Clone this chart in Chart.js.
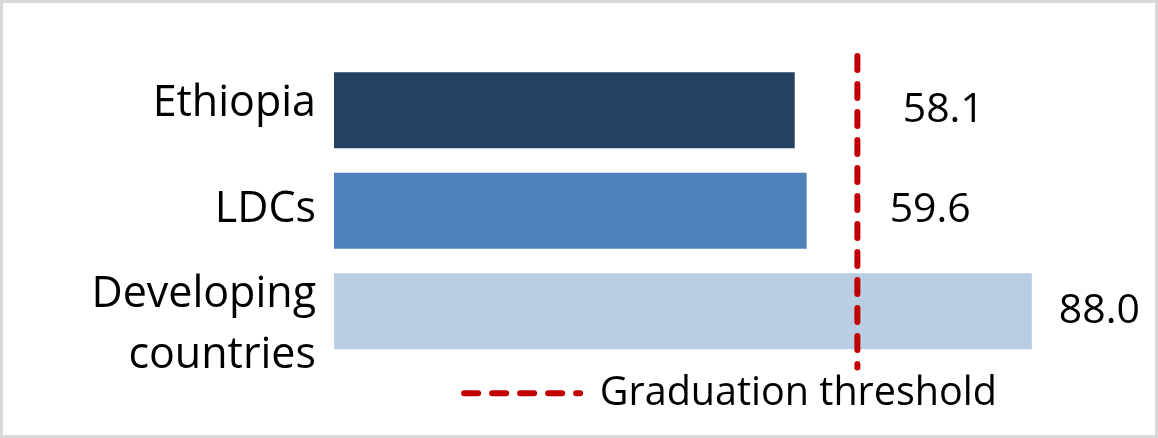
<!DOCTYPE html>
<html>
<head>
<meta charset="utf-8">
<script src="https://cdn.jsdelivr.net/npm/chart.js@4"></script>
<style>
  html, body { margin: 0; padding: 0; background: #fff; }
  #wrap { width: 1158px; height: 438px; }
</style>
</head>
<body>
<div id="wrap"><canvas id="myChart" width="1158" height="438"></canvas></div>
<script>
// data
var categories = ["Ethiopia", "LDCs", ["Developing", "countries"]];
var values = [58.1, 59.6, 88.0];
var threshold = 66;
var thresholdLabel = "Graduation threshold";

// styles
var barColors = ["#264061", "#4F81BD", "#B9CDE5"];
var labelShift = [108, 83, 27]; // gap between bar end and its value label
var tickNudge = [6, 11, -4]; // baseline of first line vs. category centre
var red = "#C00000";
var fontName = "'Open Sans', sans-serif";

// white page + light grey frame
var framePlugin = {
  id: "frame",
  beforeDraw: function (chart) {
    var ctx = chart.ctx;
    ctx.save();
    ctx.fillStyle = "#fff";
    ctx.fillRect(0, 0, chart.width, chart.height);
    ctx.strokeStyle = "#D9D9D9";
    ctx.lineWidth = 3;
    ctx.strokeRect(1.5, 1.5, chart.width - 3, chart.height - 3);
    ctx.restore();
  },
};

// category names, placed like the Excel original
var catLabelPlugin = {
  id: "catLabels",
  afterDraw: function (chart) {
    var ctx = chart.ctx;
    var yScale = chart.scales.y;
    ctx.save();
    ctx.fillStyle = "#000";
    ctx.font = "43px " + fontName;
    ctx.textAlign = "right";
    ctx.textBaseline = "alphabetic";
    yScale.ticks.forEach(function (t, i) {
      var lines = [].concat(chart.data.labels[i]);
      var y = yScale.getPixelForTick(i) + tickNudge[i];
      lines.forEach(function (line, j) {
        ctx.fillText(line, chart.chartArea.left - 18, y + j * 61);
      });
    });
    ctx.restore();
  },
};

// dashed threshold line + value labels
var extrasPlugin = {
  id: "extras",
  afterDatasetsDraw: function (chart) {
    var ctx = chart.ctx;
    var area = chart.chartArea;
    var x = chart.scales.x.getPixelForValue(threshold);
    ctx.save();
    ctx.strokeStyle = red;
    ctx.lineWidth = 6;
    ctx.lineCap = "round";
    ctx.setLineDash([14, 14]);
    ctx.beginPath();
    ctx.moveTo(x, area.top - 4);
    ctx.lineTo(x, area.bottom + 6);
    ctx.stroke();
    ctx.restore();

    ctx.save();
    ctx.fillStyle = "#000";
    ctx.font = "41px " + fontName;
    ctx.textAlign = "left";
    ctx.textBaseline = "middle";
    chart.getDatasetMeta(0).data.forEach(function (bar, i) {
      ctx.fillText(values[i].toFixed(1), bar.x + labelShift[i], bar.y);
    });
    ctx.restore();
  },
};

var chart = new Chart("myChart", {
  type: "bar",
  data: {
    labels: categories,
    datasets: [
      {
        label: "value",
        data: values,
        backgroundColor: barColors,
        borderWidth: 0,
        barPercentage: 0.756,
        categoryPercentage: 1,
      },
    ],
  },
  options: {
    indexAxis: "y",
    responsive: false,
    animation: false,
    layout: { padding: { top: 60, right: 31, bottom: 15, left: 0 } },
    scales: {
      x: { display: false, min: 0, max: 100 },
      y: {
        grid: { display: false, drawTicks: false },
        border: { display: false },
        ticks: { display: false, autoSkip: false },
        afterFit: function (scale) {
          scale.width = 334;
          scale.paddingTop = 0;
          scale.paddingBottom = 0;
        },
      },
    },
    plugins: {
      tooltip: { enabled: false },
      legend: {
        position: "bottom",
        fullSize: false,
        labels: {
          usePointStyle: true,
          pointStyleWidth: 116,
          padding: 12,
          color: "#000",
          font: { family: fontName, size: 39.5 },
          generateLabels: function () {
            return [
              {
                text: thresholdLabel,
                pointStyle: "line",
                strokeStyle: red,
                fillStyle: red,
                lineWidth: 6,
                lineCap: "round",
                lineDash: [14, 14],
                datasetIndex: 0,
              },
            ];
          },
        },
      },
    },
  },
  plugins: [framePlugin, extrasPlugin, catLabelPlugin],
});
</script>
</body>
</html>
